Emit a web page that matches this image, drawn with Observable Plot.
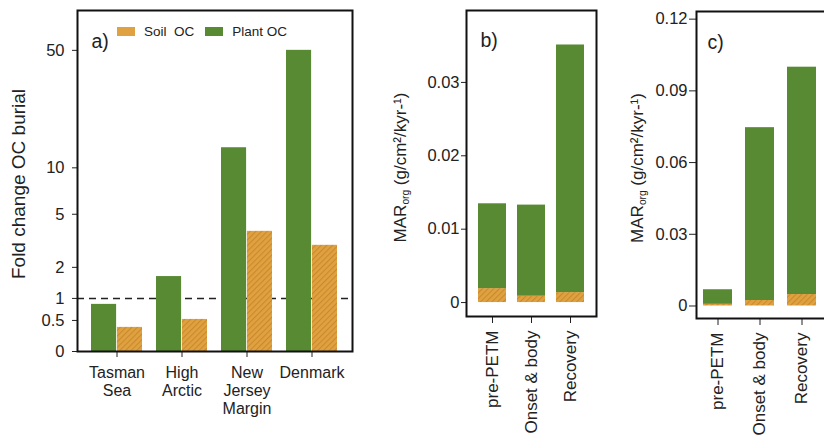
<!DOCTYPE html>
<html>
<head>
<meta charset="utf-8">
<script src="https://cdn.jsdelivr.net/npm/d3@7"></script>
<script src="https://cdn.jsdelivr.net/npm/@observablehq/plot@0.6"></script>
<style>
  html, body { margin: 0; padding: 0; background: #fff; }
  #chart { position: relative; width: 824px; height: 437px; overflow: hidden; background: #fff; }
  #chart > svg, #chart > div { position: absolute; top: 0; }
  .legA-swatch { margin-right: 11px !important; }
  .legA-swatch > svg { margin-right: 9px !important; }
</style>
</head>
<body>
<div id="chart"></div>
<script>
// ---------- data ----------
// panel a: fold change in OC burial (log(1+x) axis)
const sitesA = ["Tasman\nSea", "High\nArctic", "New\nJersey\nMargin", "Denmark"];
const plantA = [0.85, 1.66, 13.3, 50];
const soilA  = [0.37, 0.52, 3.8, 3.0];
const ticksA = [0, 0.5, 1, 2, 5, 10, 50];
const seriesNames = ["Soil\u00a0 OC", "Plant OC"];

// panel b: MARorg
const phases = ["pre-PETM", "Onset & body", "Recovery"];
const soilB  = [0.0019, 0.00086, 0.00136];
const plantB = [0.01156, 0.01242, 0.03374];
const ticksB = [0, 0.01, 0.02, 0.03];

// panel c: MARorg
const soilC  = [0.0007, 0.0023, 0.0048];
const plantC = [0.0061, 0.0723, 0.0951];
const ticksC = [0, 0.03, 0.06, 0.09, 0.12];

const titleA = "Fold change OC burial";
const titleMAR = "MAR (g/cm²/kyr-¹)";

// ---------- style ----------
const green = "#578A33";
const orange = "#E0A140";
const hatchStroke = "#C88A2D";
const ink = "#222";
const font = "'Liberation Sans', Arial, Helvetica, sans-serif";

const chart = document.getElementById("chart");

function addHatch(svg, id) {
  const defs = d3.select(svg).insert("defs", ":first-child");
  const p = defs.append("pattern").attr("id", id)
    .attr("patternUnits", "userSpaceOnUse")
    .attr("width", 4).attr("height", 4)
    .attr("patternTransform", "rotate(45)");
  p.append("rect").attr("width", 4).attr("height", 4).attr("fill", orange);
  p.append("line").attr("x1", 0.5).attr("y1", 0).attr("x2", 0.5).attr("y2", 4)
    .attr("stroke", hatchStroke).attr("stroke-width", 1.2);
}

function subscriptTitle(svg) {
  d3.select(svg).selectAll("text").filter(function() {
    return this.textContent === titleMAR;
  }).each(function() {
    const t = d3.select(this);
    t.text(null);
    t.append("tspan").text("MAR");
    t.append("tspan").attr("font-size", "0.6em").attr("dy", 3.5).text("org");
    t.append("tspan").attr("dy", -3.5).text(" (g/cm²/kyr-¹)");
  });
}

function place(el, left) {
  el.style.left = left + "px";
  chart.appendChild(el);
}

// ---------- panel a ----------
const rowsA = sitesA.map((s, i) => ({site: s, plant: plantA[i], soil: soilA[i]}));
const plotA = Plot.plot({
  width: 360, height: 437,
  marginLeft: 77, marginRight: 8, marginTop: 10, marginBottom: 86,
  style: {fontFamily: font, color: ink, background: "transparent", overflow: "visible"},
  x: {domain: sitesA, paddingInner: 0.21, paddingOuter: 0.2, label: null, axis: null},
  y: {type: "symlog", constant: 1, domain: [0, 84.8], label: null, axis: null},
  marks: [
    Plot.ruleY([1], {stroke: ink, strokeWidth: 1.5, strokeDasharray: "7,5"}),
    Plot.barY(rowsA, {x: "site", y: "plant", fill: green, insetRight: 25.9}),
    Plot.barY(rowsA, {x: "site", y: "soil", fill: "url(#hatchA)", insetLeft: 25.9}),
    Plot.axisY({ticks: ticksA, tickSize: 5, tickPadding: 8, fontSize: 16.5, tickFormat: d => String(d), label: null}),
    Plot.axisX({tickSize: 6, tickPadding: 8, fontSize: 16, lineHeight: 1.12, label: null}),
    Plot.text(["a)"], {frameAnchor: "top-left", dx: 14, dy: 24, fontSize: 19.5}),
    Plot.text([titleA], {frameAnchor: "left", textAnchor: "middle", dx: -59, dy: 3, rotate: -90, fontSize: 19}),
    Plot.frame({stroke: "#111", strokeWidth: 2})
  ]
});
addHatch(plotA, "hatchA");
place(plotA, 0);

const legA = Plot.legend({
  color: {domain: seriesNames, range: [orange, green]},
  legend: "swatches", swatchWidth: 18, swatchHeight: 9, className: "legA",
  style: {fontFamily: font, fontSize: "13.5px", color: ink, minHeight: "33px", margin: "0"}
});
legA.style.top = "15px";
place(legA, 117);

// ---------- panel b ----------
const rowsB = phases.flatMap((p, i) => [
  {phase: p, part: "Soil OC", v: soilB[i]},
  {phase: p, part: "Plant OC", v: plantB[i]}
]);
const plotB = Plot.plot({
  width: 225, height: 437,
  marginLeft: 86, marginRight: 9, marginTop: 10, marginBottom: 121,
  style: {fontFamily: font, color: ink, background: "transparent", overflow: "visible"},
  x: {domain: phases, paddingInner: 0.27, paddingOuter: 0.277, label: null, axis: null},
  y: {domain: [-0.0019, 0.0398], label: null, axis: null},
  color: {domain: ["Soil OC", "Plant OC"], range: ["url(#hatchB)", green]},
  marks: [
    Plot.barY(rowsB, Plot.stackY({x: "phase", y: "v", fill: "part"})),
    Plot.axisY({ticks: ticksB, tickSize: 5, tickPadding: 2, fontSize: 16.5, tickFormat: d => String(d), label: null}),
    Plot.axisX({tickRotate: -90, tickSize: 7, tickPadding: 7, fontSize: 17, label: null}),
    Plot.text(["b)"], {frameAnchor: "top-left", dx: 14, dy: 23, fontSize: 19.5}),
    Plot.text([titleMAR], {frameAnchor: "left", textAnchor: "middle", dx: -66, dy: 4, rotate: -90, fontSize: 17}),
    Plot.frame({stroke: "#111", strokeWidth: 2})
  ]
});
addHatch(plotB, "hatchB");
subscriptTitle(plotB);
place(plotB, 380);

// ---------- panel c ----------
const rowsC = phases.flatMap((p, i) => [
  {phase: p, part: "Soil OC", v: soilC[i]},
  {phase: p, part: "Plant OC", v: plantC[i]}
]);
const plotC = Plot.plot({
  width: 210, height: 437,
  marginLeft: 76, marginRight: 0, marginTop: 11, marginBottom: 119,
  style: {fontFamily: font, color: ink, background: "transparent", overflow: "visible"},
  x: {domain: phases, paddingInner: 0.3, paddingOuter: 0.15, insetRight: 7, label: null, axis: null},
  y: {domain: [-0.00523, 0.1232], label: null, axis: null},
  color: {domain: ["Soil OC", "Plant OC"], range: ["url(#hatchC)", green]},
  marks: [
    Plot.barY(rowsC, Plot.stackY({x: "phase", y: "v", fill: "part"})),
    Plot.axisY({ticks: ticksC, tickSize: 7, tickPadding: 2, fontSize: 16.5, tickFormat: d => String(d), label: null}),
    Plot.axisX({tickRotate: -90, tickSize: 7, tickPadding: 7, fontSize: 17, label: null}),
    Plot.text(["c)"], {frameAnchor: "top-left", dx: 11, dy: 24, fontSize: 19.5}),
    Plot.text([titleMAR], {frameAnchor: "left", textAnchor: "middle", dx: -59, dy: 3, rotate: -90, fontSize: 17}),
    Plot.frame({stroke: "#111", strokeWidth: 2})
  ]
});
addHatch(plotC, "hatchC");
subscriptTitle(plotC);
place(plotC, 620);
</script>
</body>
</html>
